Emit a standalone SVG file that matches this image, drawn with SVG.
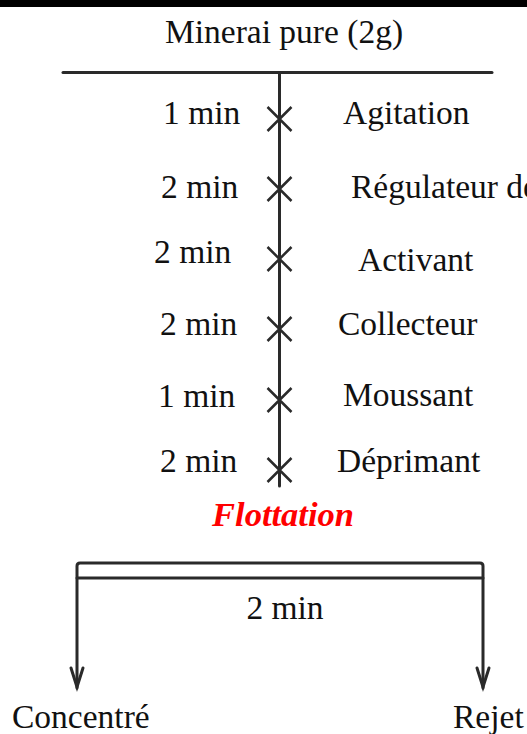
<svg xmlns="http://www.w3.org/2000/svg" width="527" height="734" viewBox="0 0 527 734">
<style>
.t{font-family:"Liberation Serif","Times New Roman",serif;font-size:33.5px;fill:#111}
.ln{stroke:#2a2a2a;stroke-width:3;fill:none;stroke-linecap:round}
.x{stroke:#2a2a2a;stroke-width:2.5;fill:none}
.red{font-family:"Liberation Serif","Times New Roman",serif;font-size:34.5px;font-weight:bold;font-style:italic;fill:#ff0000}
</style>
<defs>
<path id="cross" class="x" d="M-12,-12 L12,12 M12,-12 L-12,12"/>
</defs>
<rect x="0" y="0" width="527" height="7" fill="#000"/>
<g id="title"><text class="t" x="284" y="43" text-anchor="middle" font-size="35">Minerai pure (2g)</text></g>
<g id="connectors">
<line class="ln" x1="63" y1="72.5" x2="492" y2="72.5"/>
<line class="ln" x1="279.5" y1="72.5" x2="279.5" y2="486"/>
<use href="#cross" x="279.5" y="119"/>
<use href="#cross" x="279.5" y="189"/>
<use href="#cross" x="279.5" y="259"/>
<use href="#cross" x="279.5" y="329"/>
<use href="#cross" x="279.5" y="400"/>
<use href="#cross" x="279.5" y="470"/>
<path class="ln" d="M77,688 V566 Q77,563 80,563 H480 Q483,563 483,566 V688"/>
<line class="ln" x1="77" y1="578" x2="483" y2="578"/>
<path class="ln" d="M71,668 L77,687 L83,668"/>
<path class="ln" d="M477,668 L483,687 L489,668"/>
</g>
<g id="steps">
<text class="t" x="163" y="124">1 min</text>
<text class="t" x="343" y="124">Agitation</text>
<text class="t" x="161" y="198">2 min</text>
<text class="t" x="351" y="198">Régulateur de</text>
<text class="t" x="154" y="263">2 min</text>
<text class="t" x="358" y="271">Activant</text>
<text class="t" x="160" y="335">2 min</text>
<text class="t" x="338" y="335">Collecteur</text>
<text class="t" x="158" y="407">1 min</text>
<text class="t" x="343" y="406">Moussant</text>
<text class="t" x="160" y="472">2 min</text>
<text class="t" x="337" y="472">Déprimant</text>
</g>
<g id="flottation"><text class="red" x="283" y="526" text-anchor="middle">Flottation</text></g>
<g id="duration"><text class="t" x="285" y="619" text-anchor="middle">2 min</text></g>
<g id="concentre"><text class="t" x="12" y="728">Concentré</text></g>
<g id="rejet"><text class="t" x="453" y="728">Rejet</text></g>
</svg>
